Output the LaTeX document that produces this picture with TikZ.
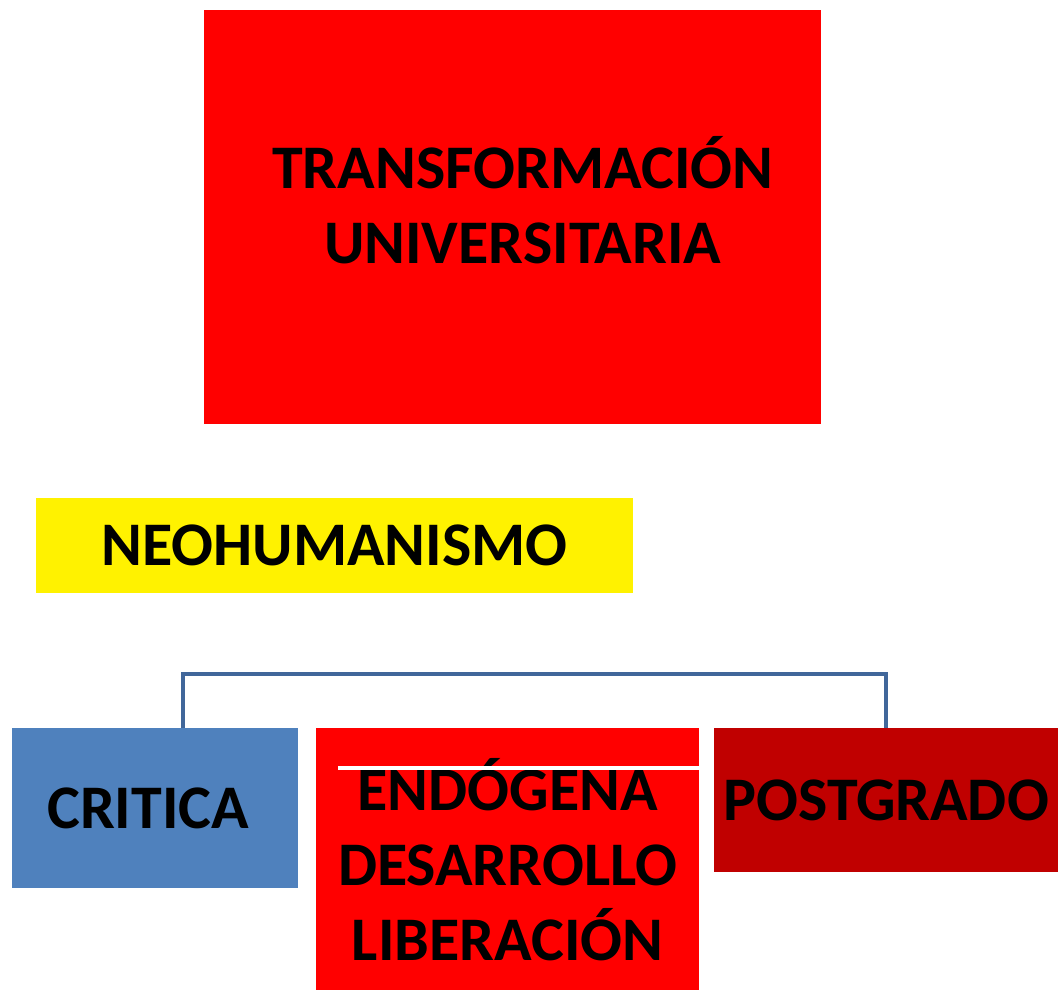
\documentclass[tikz,border=0pt]{standalone}
\usepackage{fontspec}
\setmainfont{Carlito}
\definecolor{azulcritica}{RGB}{79,129,189}
\definecolor{rojopostgrado}{RGB}{192,0,0}
\definecolor{lineaazul}{RGB}{65,103,154}

\begin{document}
\begin{tikzpicture}[x=1pt,y=-1pt,
  letra/.style={inner sep=0pt,align=center,
    font=\bfseries\fontsize{62}{75}\selectfont},
  caja/.style={letra,anchor=north west},
  conector/.style={lineaazul,line width=4pt}]

\useasboundingbox (0,0) rectangle (1058,991);

\node[caja,fill=red,minimum width=617,minimum height=414,
  label={[letra,xshift=10pt,yshift=17pt]center:TRANSFORMACIÓN\\UNIVERSITARIA}]
  (transformacion) at (204,10) {};
\node[caja,fill=yellow,minimum width=597,minimum height=95] (neohumanismo)
  at (36,498) {NEOHUMANISMO};

\node[caja,fill=azulcritica,minimum width=286,minimum height=160,
  label={[letra,xshift=-7pt]center:CRITICA}] (critica)
  at (12,728) {};
\node[caja,fill=red,minimum width=383,minimum height=262] (endogena)
  at (316,728) {ENDÓGENA\\DESARROLLO\\LIBERACIÓN};
\node[caja,fill=rojopostgrado,minimum width=344,minimum height=144] (postgrado)
  at (714,728) {POSTGRADO};

\coordinate (rama) at (183,674);
\draw[conector] (critica.north -| rama) -- (rama) -| (postgrado.north);

\draw[white,line width=4pt] (338,768) -- (endogena.east |- 0,768);
\end{tikzpicture}
\end{document}
